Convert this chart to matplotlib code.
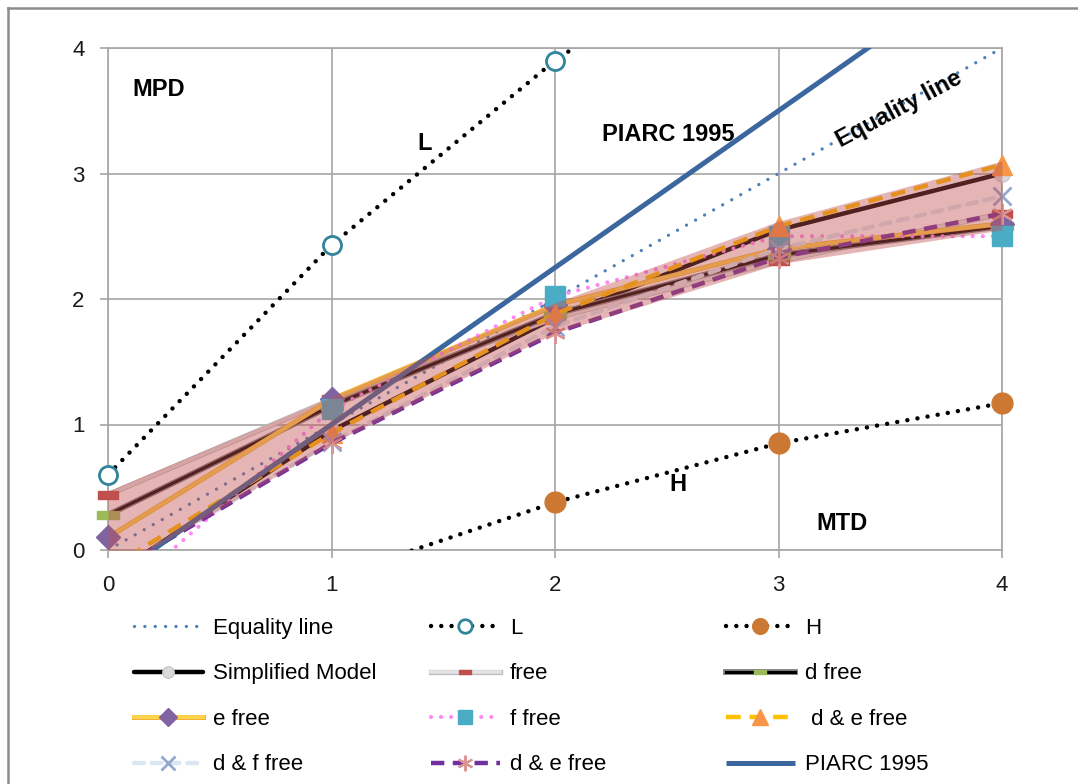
import matplotlib
matplotlib.use("Agg")
import matplotlib.pyplot as plt
from matplotlib.lines import Line2D
from matplotlib.path import Path
import matplotlib.patheffects as pe

# ---------------- data ----------------
x_vals = [0, 1, 2, 3, 4]
equality = [0, 1, 2, 3, 4]
L_vals = [0.60, 2.43, 3.90, 5.10, 6.10]
H_vals = [-1.00, -0.22, 0.38, 0.85, 1.17]
simplified = [-0.22, 0.95, 1.85, 2.55, 3.00]
free_vals = [0.44, 1.20, 1.85, 2.30, 2.68]
d_free = [0.28, 1.15, 1.88, 2.35, 2.58]
e_free = [0.10, 1.20, 1.95, 2.40, 2.60]
f_free = [-0.45, 1.12, 2.02, 2.50, 2.50]
de_free = [-0.15, 0.93, 1.88, 2.58, 3.07]
df_free = [-0.20, 0.86, 1.78, 2.40, 2.82]
de_free2 = [-0.20, 0.85, 1.73, 2.33, 2.68]
piarc_x = [0.2, 1, 2, 3, 4]
piarc = [0.00, 1.00, 2.25, 3.50, 4.75]
band_upper = [0.47, 1.22, 1.97, 2.62, 3.10]
band_lower = [-0.20, 0.85, 1.73, 2.28, 2.55]
tick_labels = ["0", "1", "2", "3", "4"]

# ---------------- figure ----------------
FONT = ["Liberation Sans", "DejaVu Sans"]
plt.rcParams["font.family"] = FONT

W, H = 1078, 784
fig = plt.figure(figsize=(W / 100, H / 100), dpi=100)
ax = fig.add_axes([108 / W, 1 - 550 / H, 894 / W, 502 / H])
ax.set_xlim(0, 4)
ax.set_ylim(0, 4)
ax.set_xticks(range(5))
ax.set_yticks(range(5))
ax.set_xticklabels(tick_labels)
ax.set_yticklabels(tick_labels)
grid_c = "#A6A6A6"
ax.grid(True, color=grid_c, lw=1.2, zorder=0)
ax.set_axisbelow(True)
for s in ax.spines.values():
    s.set_color(grid_c)
    s.set_linewidth(1.2)
ax.tick_params(axis="both", direction="out", length=6, width=1.2, color=grid_c,
               labelsize=16, labelcolor="#1a1a1a")
ax.tick_params(axis="x", pad=12)
ax.tick_params(axis="y", pad=11)

rect = Path([(-1, -0.38), (1, -0.38), (1, 0.38), (-1, 0.38), (-1, -0.38)],
            [Path.MOVETO, Path.LINETO, Path.LINETO, Path.LINETO, Path.CLOSEPOLY])
ast = (6, 2, 0)


def outline(lw, c):
    return [pe.Stroke(linewidth=lw, foreground=c), pe.Normal()]


specs = [
    ("Equality line", x_vals, equality,
     dict(color="#4F81BD", lw=2.4, ls=(0, (0.01, 3.1)), dash_capstyle="round"), None, None),
    ("L", x_vals, L_vals,
     dict(color="black", lw=3.2, ls=(0, (0.01, 2.3)), dash_capstyle="round"),
     dict(marker="o", ms=13, mfc="white", mec="#31849B", mew=2), None),
    ("H", x_vals, H_vals,
     dict(color="black", lw=3.2, ls=(0, (0.01, 2.3)), dash_capstyle="round"),
     dict(marker="o", ms=15, mfc="#CD7832", mec="#CD7832"), None),
    ("Simplified Model", x_vals, simplified,
     dict(color="black", lw=3.2, solid_capstyle="round"),
     dict(marker="o", ms=11, mfc="#D9D9D9", mec="#C8C8C8"), None),
    ("free", x_vals, free_vals,
     dict(color="#E4E4E4", lw=2.6), dict(marker=rect, ms=14, mfc="#C0504D", mec="#C0504D"),
     outline(3.8, "#BDBDBD")),
    ("d free", x_vals, d_free,
     dict(color="black", lw=2.2), dict(marker=rect, ms=16, mfc="#9BBB59", mec="#9BBB59"),
     outline(4.2, "#7F7F7F")),
    ("e free", x_vals, e_free,
     dict(color="#FFD54F", lw=2.6), dict(marker="D", ms=12, mfc="#8064A2", mec="#8064A2"),
     outline(3.6, "#F2B233")),
    ("f free", x_vals, f_free,
     dict(color="#FF88F5", lw=3.0, ls=(0, (0.01, 2.4)), dash_capstyle="round"),
     dict(marker="s", ms=14, mfc="#4BACC6", mec="#4BACC6"), None),
    (" d & e free", x_vals, de_free,
     dict(color="#FFC000", lw=3.2, ls=(0, (3.3, 2.0))),
     dict(marker="^", ms=15, mfc="#F79646", mec="#F79646"), None),
    ("d & f free", x_vals, df_free,
     dict(color="#DCE6F2", lw=3.2, ls=(0, (2.2, 1.8)), dash_capstyle="round"),
     dict(marker="x", ms=13, mfc="none", mec="#95A6CF", mew=2), None),
    ("d & e free", x_vals, de_free2,
     dict(color="#7030A0", lw=3.2, ls=(0, (3.0, 1.9))),
     dict(marker=ast, ms=15, mfc="none", mec="#D99694", mew=1.5), None),
    ("PIARC 1995", piarc_x, piarc,
     dict(color="#3B679E", lw=3.6, solid_capstyle="butt"), None, None),
]

legend_handles = []
z = 2
for label, xs, ys, lkw, mkw, peff in specs:
    (ln,) = ax.plot(xs, ys, zorder=z, **lkw)
    if peff:
        ln.set_path_effects(peff)
    if mkw:
        pts = [(a, b) for a, b in zip(xs, ys) if 0 <= a <= 4 and 0 <= b <= 4]
        if pts:
            mx, my = zip(*pts)
            ax.plot(mx, my, ls="none", zorder=z + 0.5, clip_on=False, **mkw)
    hl = Line2D([], [], **lkw)
    if peff:
        hl.set_path_effects(peff)
    if mkw:
        mk = dict(mkw)
        mk["ms"] = 8 if mk["marker"] is rect else mk["ms"] * 0.75
        hm = Line2D([], [], ls="none", **mk)
        legend_handles.append((hl, hm))
    else:
        legend_handles.append(hl)
    z += 1

# translucent confidence band drawn over the series
ax.fill_between(x_vals, band_lower, band_upper, color="#C0504D", alpha=0.42,
                lw=0, zorder=40)

# annotations
bold = dict(fontweight="bold", fontsize=17, color="black", zorder=50)
ax.text(0.107, 3.67, "MPD", ha="left", va="center", **bold)
ax.text(1.418, 3.24, "L", ha="center", va="center", **bold)
ax.text(2.21, 3.31, "PIARC 1995", ha="left", va="center", **bold)
ax.text(3.54, 3.51, "Equality line", ha="center", va="center", rotation=28,
        rotation_mode="anchor", **bold)
ax.text(2.55, 0.52, "H", ha="center", va="center", **bold)
ax.text(3.17, 0.215, "MTD", ha="left", va="center", **bold)

# legend in three fixed columns
cols = [[0, 3, 6, 9], [1, 4, 7, 10], [2, 5, 8, 11]]
col_x = [134, 431, 726]
for cx, idxs in zip(col_x, cols):
    hs = [legend_handles[i] for i in idxs]
    labs = [specs[i][0] for i in idxs]
    fig.legend(hs, labs, loc="upper left", bbox_to_anchor=(cx / W, 1 - 618 / H),
               frameon=False, fontsize=16, handlelength=3.1, handletextpad=0.45,
               labelspacing=1.1, borderpad=0, borderaxespad=0, numpoints=1)

# outer chart border
bc = "#8C8C8C"
fig.add_artist(Line2D([8 / W, 8 / W], [0, 1 - 8 / H], color=bc, lw=1.8))
fig.add_artist(Line2D([8 / W, 1], [1 - 8 / H, 1 - 8 / H], color=bc, lw=1.8))

fig.savefig("out.png", dpi=100)
